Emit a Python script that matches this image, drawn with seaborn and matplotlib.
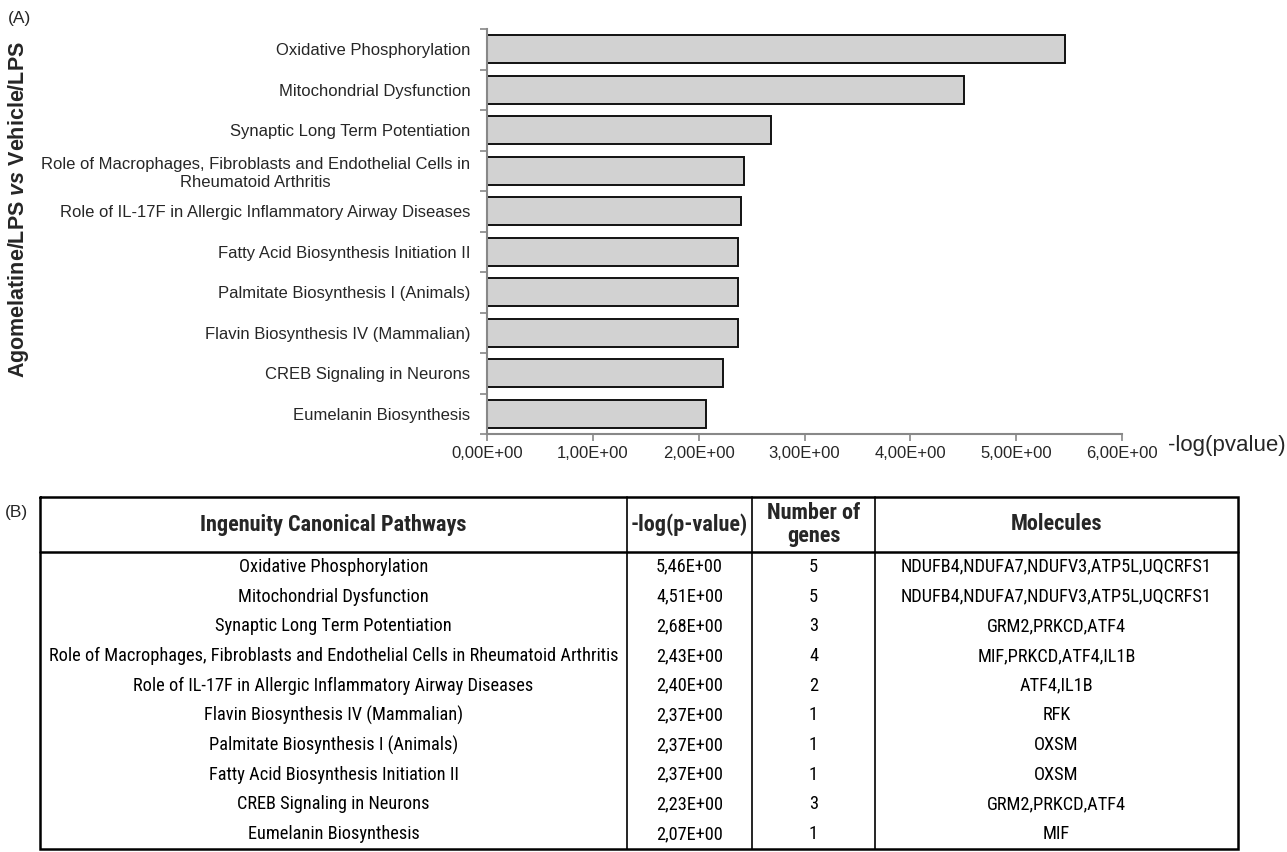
import numpy as np
import pandas as pd
import matplotlib
matplotlib.use("Agg")
from matplotlib import pyplot as plt
from matplotlib import font_manager
import seaborn as sns

# pathways as ordered in panel A (top to bottom)
bar_pathways = ["Oxidative Phosphorylation",
                "Mitochondrial Dysfunction",
                "Synaptic Long Term Potentiation",
                "Role of Macrophages, Fibroblasts and Endothelial Cells in\nRheumatoid Arthritis",
                "Role of IL-17F in Allergic Inflammatory Airway Diseases",
                "Fatty Acid Biosynthesis Initiation II",
                "Palmitate Biosynthesis I (Animals)",
                "Flavin Biosynthesis IV (Mammalian)",
                "CREB Signaling in Neurons",
                "Eumelanin Biosynthesis"]
bar_values = [5.46, 4.51, 2.68, 2.43, 2.40, 2.37, 2.37, 2.37, 2.23, 2.07]
x_ticks = [0, 1, 2, 3, 4, 5, 6]

# table for panel B
tab_pathways = ["Oxidative Phosphorylation",
                "Mitochondrial Dysfunction",
                "Synaptic Long Term Potentiation",
                "Role of Macrophages, Fibroblasts and Endothelial Cells in Rheumatoid Arthritis",
                "Role of IL-17F in Allergic Inflammatory Airway Diseases",
                "Flavin Biosynthesis IV (Mammalian)",
                "Palmitate Biosynthesis I (Animals)",
                "Fatty Acid Biosynthesis Initiation II",
                "CREB Signaling in Neurons",
                "Eumelanin Biosynthesis"]
tab_logp = [5.46, 4.51, 2.68, 2.43, 2.40, 2.37, 2.37, 2.37, 2.23, 2.07]
tab_ngenes = [5, 5, 3, 4, 2, 1, 1, 1, 3, 1]
tab_molecules = ["NDUFB4,NDUFA7,NDUFV3,ATP5L,UQCRFS1",
                 "NDUFB4,NDUFA7,NDUFV3,ATP5L,UQCRFS1",
                 "GRM2,PRKCD,ATF4",
                 "MIF,PRKCD,ATF4,IL1B",
                 "ATF4,IL1B",
                 "RFK",
                 "OXSM",
                 "OXSM",
                 "GRM2,PRKCD,ATF4",
                 "MIF"]
tab_header = ["Ingenuity Canonical Pathways", "-log(p-value)", "Number of\ngenes", "Molecules"]

sns.set_theme(style="white")
plt.rcParams['font.family'] = ['Liberation Sans', 'DejaVu Sans']
plt.rcParams['mathtext.fontset'] = 'custom'
plt.rcParams['mathtext.rm'] = 'Liberation Sans'
plt.rcParams['mathtext.bf'] = 'Liberation Sans:bold'
plt.rcParams['mathtext.it'] = 'Liberation Sans:italic'
plt.rcParams['mathtext.bfit'] = 'Liberation Sans:italic:bold'

# the table uses a narrow face; use one if it is installed
installed = {f.name for f in font_manager.fontManager.ttflist}
narrow, cell_fs, head_fs = 'Liberation Sans', 11.8, 12.5
for cand in ['Liberation Sans Narrow', 'Arial Narrow', 'Roboto Condensed', 'Open Sans Condensed']:
    if cand in installed:
        narrow, cell_fs, head_fs = cand, 13.2, 16
        break

W, H = 1287, 852
fig = plt.figure(figsize=(W / 100, H / 100), dpi=100)

def frac(x0, y0, x1, y1):
    return [x0 / W, 1 - y1 / H, (x1 - x0) / W, (y1 - y0) / H]

######Panel A - bar chart
ax = fig.add_axes(frac(487, 29, 1122, 434))
df = pd.DataFrame({'pathway': bar_pathways, 'logp': bar_values})
sns.barplot(data=df, x='logp', y='pathway', orient='h', color='#d2d2d2',
            edgecolor='#111111', linewidth=1.4, width=0.68, saturation=1, ax=ax)
ax.set_xlim(0, 6)
ax.set_ylim(len(bar_pathways) - 0.5, -0.5)
ax.set_xticks(x_ticks)
ax.set_xticklabels([f"{v:.2E}".replace('.', ',') for v in x_ticks], fontsize=12)
ax.set_yticks(range(len(bar_pathways)))
ax.set_yticklabels(bar_pathways, fontsize=12)
for lab in ax.get_yticklabels():
    lab.set_multialignment('center')
ax.set_yticks(np.arange(-0.5, len(bar_pathways), 1), minor=True)
ax.tick_params(axis='y', which='major', length=0, pad=12)
ax.tick_params(axis='y', which='minor', length=5, color='#888888', width=1.2, direction='out', left=True)
ax.tick_params(axis='x', which='major', length=5, color='#888888', width=1.2, direction='out', bottom=True, pad=4)
ax.set_xlabel('')
ax.set_ylabel('')
for s in ['top', 'right']:
    ax.spines[s].set_visible(False)
for s in ['left', 'bottom']:
    ax.spines[s].set_color('#888888')
    ax.spines[s].set_linewidth(1.5)
fig.text(1168 / W, 1 - 446 / H, "-log(pvalue)", fontsize=16, ha='left', va='center')
fig.text(19 / W, 1 - 210 / H,
         r"$\mathbf{Agomelatine/LPS}$ $\mathbfit{vs}$ $\mathbf{Vehicle/LPS}$",
         fontsize=15.5, rotation=90, ha='center', va='center')
fig.text(8 / W, 1 - 18 / H, "(A)", fontsize=12.5, ha='left', va='center')

######Panel B - table
fig.text(5 / W, 1 - 513 / H, "(B)", fontsize=12.5, ha='left', va='center')
tx = fig.add_axes([0, 0, 1, 1])
tx.set_xlim(0, W)
tx.set_ylim(H, 0)
tx.axis('off')
col_edges = [40, 627, 752, 875, 1238]
top, head_bot, bot = 497, 552, 849
row_h = (bot - head_bot) / len(tab_pathways)
# borders
tx.plot([col_edges[0], col_edges[-1], col_edges[-1], col_edges[0], col_edges[0]],
        [top, top, bot, bot, top], color='black', lw=1.8, solid_joinstyle='miter')
tx.plot([col_edges[0], col_edges[-1]], [head_bot, head_bot], color='black', lw=1.8)
for xe in col_edges[1:-1]:
    tx.plot([xe, xe], [top, bot], color='black', lw=1.2)
centers = [(col_edges[i] + col_edges[i + 1]) / 2 for i in range(4)]
for c, h in zip(centers, tab_header):
    tx.text(c, (top + head_bot) / 2, h, ha='center', va='center', fontsize=head_fs,
            fontweight='bold', family=narrow, linespacing=1.05)
for i in range(len(tab_pathways)):
    yc = head_bot + row_h * (i + 0.5)
    cells = [tab_pathways[i], f"{tab_logp[i]:.2E}".replace('.', ','), str(tab_ngenes[i]), tab_molecules[i]]
    for c, t in zip(centers, cells):
        tx.text(c, yc, t, ha='center', va='center', fontsize=cell_fs, family=narrow, color='black')

plt.savefig('out.png', dpi=100)
